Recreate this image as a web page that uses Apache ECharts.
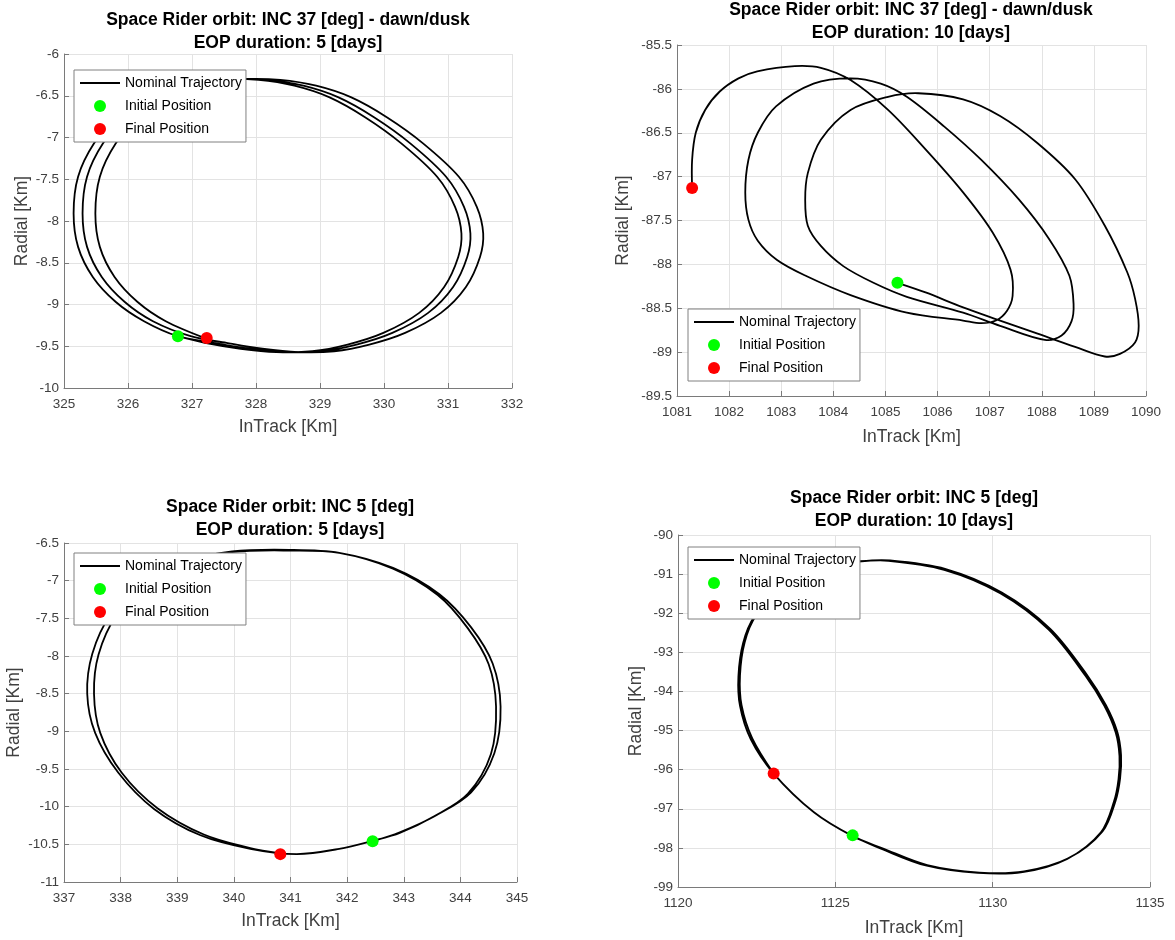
<!DOCTYPE html>
<html lang="en">
<head>
    <meta charset="UTF-8">
    <title>Space Rider orbit</title>
    <script src="https://cdn.jsdelivr.net/npm/echarts@6/dist/echarts.min.js"></script>
    <style>
        html, body { margin: 0; padding: 0; background: #fff; }
        #main { width: 1175px; height: 940px; }
    </style>
</head>
<body>
<div id="main"></div>
<script>
    // 轨迹数据 (InTrack, Radial) [Km]
    const tlTrajectory = [
        [326.78,-9.38],
        [327.20,-9.46],[327.76,-9.53],[328.32,-9.57],[328.88,-9.56],[329.43,-9.48],[329.99,-9.34],[330.55,-9.10],
        [330.94,-8.79],[331.16,-8.43],[331.21,-8.15],[331.11,-7.83],[330.83,-7.47],[330.27,-7.07],[329.71,-6.76],
        [329.15,-6.52],[328.60,-6.38],[328.04,-6.31],[327.48,-6.30],[326.92,-6.34],[326.37,-6.46],[325.86,-6.72],
        [325.47,-7.07],[325.22,-7.47],[325.15,-7.91],[325.22,-8.31],[325.45,-8.67],[325.81,-8.97],[326.25,-9.20],
        [326.78,-9.38],[327.34,-9.46],[327.90,-9.53],[328.46,-9.57],[329.02,-9.56],[329.57,-9.48],[330.13,-9.34],
        [330.69,-9.10],[331.08,-8.79],[331.30,-8.43],[331.35,-8.15],[331.25,-7.83],[330.97,-7.47],[330.41,-7.07],
        [329.85,-6.76],[329.29,-6.52],[328.74,-6.38],[328.18,-6.31],[327.62,-6.30],[327.06,-6.34],[326.51,-6.46],
        [326.00,-6.72],[325.61,-7.07],[325.36,-7.47],[325.29,-7.91],[325.36,-8.31],[325.59,-8.67],[325.95,-8.97],
        [326.39,-9.20],
        [326.98,-9.38],[327.54,-9.46],[328.10,-9.53],[328.66,-9.57],[329.22,-9.56],[329.77,-9.48],[330.33,-9.34],
        [330.89,-9.10],[331.28,-8.79],[331.50,-8.43],[331.55,-8.15],[331.45,-7.83],[331.17,-7.47],[330.61,-7.07],
        [330.05,-6.76],[329.49,-6.52],[328.94,-6.38],[328.38,-6.31],[327.82,-6.30],[327.26,-6.34],[326.71,-6.46],
        [326.20,-6.72],[325.81,-7.07],[325.56,-7.47],[325.49,-7.91],[325.56,-8.31],[325.79,-8.67],[326.15,-8.97],
        [326.59,-9.20],[327.23,-9.41]
    ];
    const tlInitial = [326.78, -9.38];
    const tlFinal = [327.23, -9.40];

    const trTrajectory = [
        [1085.23,-88.21],[1085.77,-88.32],[1086.49,-88.49],[1087.20,-88.64],[1087.92,-88.79],[1088.64,-88.94],
        [1089.21,-89.05],[1089.50,-89.02],[1089.79,-88.89],[1089.86,-88.70],[1089.79,-88.39],[1089.64,-88.09],
        [1089.21,-87.56],[1088.64,-87.03],[1087.92,-86.62],[1087.20,-86.31],[1086.49,-86.12],[1085.63,-86.05],
        [1085.05,-86.09],[1084.33,-86.24],[1083.76,-86.58],[1083.51,-86.96],[1083.46,-87.26],[1083.51,-87.56],
        [1083.76,-87.79],[1084.19,-88.02],[1084.77,-88.21],[1085.41,-88.37],[1086.49,-88.55],[1087.20,-88.70],
        [1088.06,-88.86],[1088.38,-88.81],[1088.57,-88.65],[1088.61,-88.45],[1088.53,-88.13],[1088.14,-87.71],
        [1087.56,-87.26],[1086.84,-86.81],[1086.13,-86.43],[1085.41,-86.09],[1084.91,-85.94],[1084.33,-85.88],
        [1083.62,-85.94],[1082.90,-86.20],[1082.55,-86.50],[1082.37,-86.81],[1082.31,-87.18],[1082.37,-87.49],
        [1082.55,-87.73],[1082.92,-87.95],[1083.47,-88.13],[1084.33,-88.35],[1085.41,-88.55],[1086.49,-88.64],
        [1086.84,-88.67],[1087.12,-88.64],[1087.33,-88.53],[1087.44,-88.36],[1087.40,-88.06],[1087.06,-87.64],
        [1086.49,-87.18],[1085.77,-86.69],[1085.05,-86.24],[1084.33,-85.90],[1083.76,-85.76],[1083.26,-85.74],
        [1082.54,-85.80],[1082.18,-85.88],[1081.82,-86.03],[1081.54,-86.24],[1081.36,-86.50],[1081.29,-86.81],
        [1081.29,-87.13]
    ];
    const trInitial = [1085.23, -88.21];
    const trFinal = [1081.29, -87.13];

    const blTrajectory = [
        [342.45,-10.46],[342.93,-10.34],[343.56,-10.12],[344.19,-9.81],[344.60,-9.29],[344.71,-8.67],[344.57,-8.10],
        [344.19,-7.62],[343.63,-7.18],[342.81,-6.83],[341.86,-6.63],[340.98,-6.59],[339.97,-6.61],[339.15,-6.74],
        [338.40,-7.00],[337.83,-7.44],[337.50,-7.97],[337.41,-8.50],[337.55,-9.02],[337.96,-9.55],[338.59,-10.03],
        [339.41,-10.38],[340.29,-10.56],[341.11,-10.63],[341.86,-10.56],[342.47,-10.45],
        [342.93,-10.35],[343.53,-10.13],[344.13,-9.83],[344.54,-9.30],[344.63,-8.67],[344.50,-8.11],[344.13,-7.63],
        [343.60,-7.19],[342.81,-6.84],[341.86,-6.63],[340.98,-6.60],[339.97,-6.62],[339.18,-6.75],[338.46,-7.01],
        [337.93,-7.45],[337.61,-7.98],[337.53,-8.50],[337.64,-9.02],[338.02,-9.55],[338.65,-10.02],[339.47,-10.37],
        [340.29,-10.55],[340.82,-10.62]
    ];
    const blInitial = [342.45, -10.46];
    const blFinal = [340.82, -10.63];

    const brTrajectory = [
        [1125.50,-97.68],[1126.45,-98.02],[1127.87,-98.45],[1129.53,-98.64],[1130.95,-98.62],[1132.37,-98.28],
        [1133.44,-97.60],[1133.85,-96.83],[1134.00,-96.24],[1134.03,-95.65],[1133.91,-95.05],[1133.55,-94.37],
        [1132.96,-93.61],[1131.78,-92.42],[1130.24,-91.49],[1128.46,-90.89],[1126.69,-90.66],[1125.74,-90.68],
        [1124.56,-90.81],[1123.37,-91.23],[1122.43,-92.08],[1122.07,-92.76],[1121.92,-93.61],[1121.97,-94.37],
        [1122.31,-95.22],[1123.04,-96.10],[1124.32,-97.09],[1125.55,-97.70],
        [1126.50,-98.01],[1127.92,-98.44],[1129.58,-98.63],[1131.00,-98.60],[1132.42,-98.26],[1133.49,-97.58],
        [1133.90,-96.81],[1134.05,-96.22],[1134.08,-95.63],[1133.96,-95.03],[1133.60,-94.35],[1133.01,-93.59],
        [1131.83,-92.40],[1130.29,-91.47],[1128.51,-90.87],[1126.74,-90.65],[1125.79,-90.67],[1124.61,-90.80],
        [1123.42,-91.22],[1122.48,-92.06],[1122.12,-92.74],[1121.97,-93.59],[1122.02,-94.35],[1122.36,-95.20],
        [1123.04,-96.10]
    ];
    const brInitial = [1125.55, -97.68];
    const brFinal = [1123.04, -96.10];

    // 坐标轴范围 [min, max, interval]
    const tlXAxis = [325, 332, 1], tlYAxis = [-10, -6, 0.5];
    const trXAxis = [1081, 1090, 1], trYAxis = [-89.5, -85.5, 0.5];
    const blXAxis = [337, 345, 1], blYAxis = [-11, -6.5, 0.5];
    const brXAxis = [1120, 1135, 5], brYAxis = [-99, -90, 1];

    const titles = [
        'Space Rider orbit: INC 37 [deg] - dawn/dusk\nEOP duration: 5 [days]',
        'Space Rider orbit: INC 37 [deg] - dawn/dusk\nEOP duration: 10 [days]',
        'Space Rider orbit: INC 5 [deg]\nEOP duration: 5 [days]',
        'Space Rider orbit: INC 5 [deg]\nEOP duration: 10 [days]'
    ];
    const legendNames = ['Nominal Trajectory', 'Initial Position', 'Final Position'];

    const FONT = '"Liberation Sans", Arial, Helvetica, sans-serif';
    const AXIS_COLOR = '#7a7a7a';
    const TEXT_COLOR = '#404040';

    const panels = [
        {grid: {left: 64, top: 54, width: 448, height: 334}, titleX: 288, titleY: 20, legend: [74, 70],
            x: tlXAxis, y: tlYAxis, traj: tlTrajectory, init: tlInitial, fin: tlFinal, xGap: 29, yGap: 31},
        {grid: {left: 677, top: 45, width: 469, height: 351}, titleX: 911, titleY: 10, legend: [688, 309],
            x: trXAxis, y: trYAxis, traj: trTrajectory, init: trInitial, fin: trFinal, xGap: 31, yGap: 44},
        {grid: {left: 64, top: 543, width: 453, height: 339}, titleX: 290, titleY: 507, legend: [74, 553],
            x: blXAxis, y: blYAxis, traj: blTrajectory, init: blInitial, fin: blFinal, xGap: 29, yGap: 36},
        {grid: {left: 678, top: 535, width: 472, height: 352}, titleX: 914, titleY: 498, legend: [688, 547],
            x: brXAxis, y: brYAxis, traj: brTrajectory, init: brInitial, fin: brFinal, xGap: 31, yGap: 32}
    ];

    function makeAxis (range, name, gap, i, isY) {
        return {
            gridIndex: i,
            type: 'value',
            min: range[0],
            max: range[1],
            interval: range[2],
            name: name,
            nameLocation: 'middle',
            nameGap: gap,
            nameTextStyle: {fontSize: 17.5, color: TEXT_COLOR, fontFamily: FONT, lineHeight: 20},
            axisLine: {show: true, onZero: false, lineStyle: {color: AXIS_COLOR, width: 1}},
            axisTick: {show: true, inside: true, length: 5, lineStyle: {color: AXIS_COLOR}},
            axisLabel: {
                fontSize: 13.5, color: TEXT_COLOR, fontFamily: FONT, margin: isY ? 5 : 9,
                formatter: function (v) { return String(v); }
            },
            splitLine: {show: true, lineStyle: {color: '#e3e3e3', width: 1}}
        };
    }

    // 轨迹用平滑折线画出，坐标经由 api.coord 映射
    function trajectoryRenderer (traj) {
        return function (params, api) {
            if (params.dataIndex !== 0) return null;
            let pts = traj.map((d) => api.coord(d));
            return {
                type: 'polyline',
                shape: {points: pts, smooth: 0.33},
                style: {stroke: '#000', lineWidth: 1.8, fill: null, lineJoin: 'round'}
            };
        };
    }

    let option = {
        animation: false,
        backgroundColor: '#fff',
        title: [], grid: [], xAxis: [], yAxis: [], legend: [], series: []
    };

    panels.forEach(function (p, i) {
        option.grid.push(p.grid);
        option.title.push({
            text: titles[i],
            left: p.titleX,
            top: p.titleY - 11.5,
            textAlign: 'center',
            padding: 0,
            textStyle: {fontSize: 17.5, fontWeight: 'bold', color: '#000', fontFamily: FONT, lineHeight: 23}
        });
        option.xAxis.push(makeAxis(p.x, 'InTrack [Km]', p.xGap, i, false));
        option.yAxis.push(makeAxis(p.y, 'Radial [Km]', p.yGap, i, true));
        option.legend.push({
            orient: 'vertical',
            left: p.legend[0],
            top: p.legend[1],
            padding: [6, 4, 6, 6],
            itemGap: 9,
            itemWidth: 40,
            itemHeight: 12,
            backgroundColor: '#fff',
            borderColor: '#808080',
            borderWidth: 1,
            selectedMode: false,
            textStyle: {fontSize: 14, color: '#000', fontFamily: FONT},
            data: [
                {name: legendNames[0], icon: 'path://M0,0H40V2H0Z'},
                {name: legendNames[1], icon: 'circle'},
                {name: legendNames[2], icon: 'circle'}
            ]
        });
        option.series.push({
            name: legendNames[0], type: 'custom', xAxisIndex: i, yAxisIndex: i,
            data: p.traj, z: 2,
            renderItem: trajectoryRenderer(p.traj),
            itemStyle: {color: '#000'}
        });
        option.series.push({
            name: legendNames[1], type: 'scatter', xAxisIndex: i, yAxisIndex: i,
            data: [p.init], symbolSize: 12, z: 3, itemStyle: {color: '#00ff00', opacity: 1}
        });
        option.series.push({
            name: legendNames[2], type: 'scatter', xAxisIndex: i, yAxisIndex: i,
            data: [p.fin], symbolSize: 12, z: 3, itemStyle: {color: '#ff0000', opacity: 1}
        });
    });

    let fig = echarts.init(document.getElementById('main'), null, {renderer: 'canvas'});
    fig.setOption(option);
</script>
</body>
</html>
